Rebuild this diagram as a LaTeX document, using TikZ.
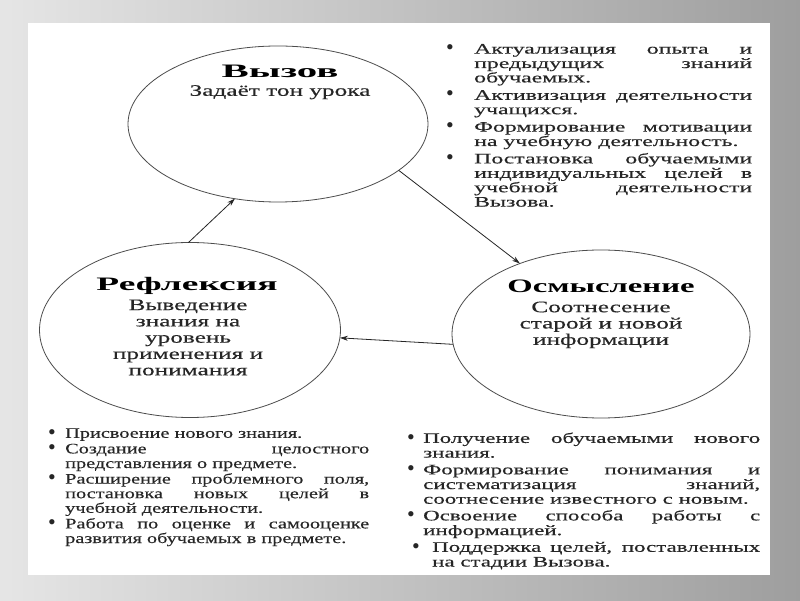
\documentclass[tikz,border=0pt]{standalone}
\usepackage{fontspec}
\setmainfont{Liberation Serif}
\newfontfamily\bulfont{Liberation Serif}
\newfontfamily\ttlwide[FakeStretch=2.15]{Liberation Serif}
\newfontfamily\ttlfont[FakeStretch=1.97]{Liberation Serif}
\newfontfamily\ttlnarrow[FakeStretch=1.72]{Liberation Serif}
\newfontfamily\ellfont[FakeStretch=1.58,FakeBold=0.3]{Liberation Serif}
\newfontfamily\trfont[FakeStretch=1.64,FakeBold=0.3]{Liberation Serif}
\newfontfamily\brfont[FakeStretch=1.58,FakeBold=0.3]{Liberation Serif}
\newfontfamily\blfont[FakeStretch=1.4,FakeBold=0.3]{Liberation Serif}
\usetikzlibrary{shapes.geometric,arrows.meta}
\hbadness=10000
\newcommand{\bitem}[3][0pt]{\par\hangindent=\dimexpr#1+#2\relax\hangafter=1
  \noindent\hspace*{#1}\makebox[#2][l]{\raisebox{-1.2pt}[0pt][0pt]{\bulfont\fontsize{22}{0}\selectfont\textbullet}}\ignorespaces#3\par}

\begin{document}
\begin{tikzpicture}[x=1pt,y=1pt,
    stage/.style={draw=black!70,line width=0.8pt,ellipse,inner sep=0pt,outer sep=0pt},
    arr/.style={draw=black!85,line width=0.8pt,-{Stealth[length=8pt,width=5pt]}},
    ttl/.style={font=\bfseries\fontsize{19}{19}\selectfont,inner sep=0pt,anchor=north},
    sub/.style={font=\ellfont\fontsize{16}{16.3}\selectfont,text=black!85,align=center,inner sep=0pt,anchor=north},
    list/.style={inner sep=0pt,anchor=north west,align=justify,text=black!85}]
  \useasboundingbox (0,0) rectangle (800,600);
  \shade[left color=black!10,right color=black!38] (0,0) rectangle (800,600);
  \fill[white] (28,25) rectangle (770,577);

  \node[stage,minimum width=300pt,minimum height=156pt] (vyzov) at (278,476) {};
  \node[stage,minimum width=301pt,minimum height=175pt] (refl) at (190,270) {};
  \node[stage,minimum width=298pt,minimum height=168pt] (osm) at (601,266) {};

  \draw[arr] (vyzov.-21) -- (osm.139);
  \draw[arr] (osm.-176) -- (refl.-3);
  \draw[arr] (refl.91) -- (vyzov.-120);

  \node[ttl] (vyzovT) at (280,535) {\ttlwide Вызов};
  \node[sub] (vyzovS) at (280,515) {Задаёт тон урока};
  \node[ttl] (reflT) at (187,322.6) {\ttlfont Рефлексия};
  \node[sub] (reflS) at (188,300.6) {Выведение\\знания на\\уровень\\применения и\\понимания};
  \node[ttl] (osmT) at (601,320) {\ttlnarrow Осмысление};
  \node[sub] (osmS) at (601,298.6) {Соотнесение\\старой и новой\\информации};

  \node[list,text width=306pt,font=\trfont\fontsize{14.5}{14.4}\selectfont\setlength{\parskip}{3pt}] (vyzovL) at (446,564) {%
    \bitem{28pt}{Актуализация опыта и\linebreak предыдущих знаний\linebreak обучаемых.}
    \bitem{28pt}{Активизация деятельности\linebreak учащихся.}
    \bitem{28pt}{Формирование мотивации\linebreak на учебную деятельность.}
    \bitem{28pt}{Постановка обучаемыми\linebreak индивидуальных целей в\linebreak учебной деятельности\linebreak Вызова.}};
  \node[list,text width=321pt,font=\blfont\fontsize{14.5}{14.6}\selectfont\setlength{\parskip}{1pt}] (reflL) at (48,178) {%
    \bitem{17pt}{Присвоение нового знания.}
    \bitem{17pt}{Создание целостного\linebreak представления о предмете.}
    \bitem{17pt}{Расширение проблемного поля,\linebreak постановка новых целей в\linebreak учебной деятельности.}
    \bitem{17pt}{Работа по оценке и самооценке\linebreak развития обучаемых в предмете.}};
  \node[list,text width=353pt,font=\brfont\fontsize{14.5}{14.7}\selectfont\setlength{\parskip}{2pt}] (osmL) at (407,174) {%
    \bitem{16pt}{Получение обучаемыми нового\linebreak знания.}
    \bitem{16pt}{Формирование понимания и\linebreak систематизация знаний,\linebreak соотнесение известного с новым.}
    \bitem{16pt}{Освоение способа работы с\linebreak информацией.}
    \bitem[5pt]{20pt}{Поддержка целей, поставленных\linebreak на стадии Вызова.}};
\end{tikzpicture}
\end{document}
